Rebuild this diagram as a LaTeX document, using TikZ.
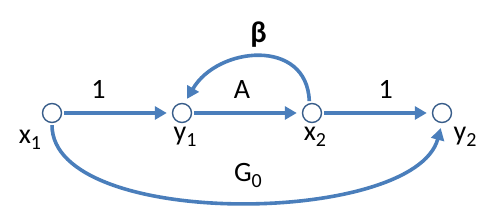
\documentclass[tikz,border=0pt]{standalone}
\usepackage{fontspec}
\setmainfont{Carlito}
\usetikzlibrary{arrows.meta,positioning}
\definecolor{flowblue}{HTML}{4A7EBB}
\definecolor{nodeblue}{HTML}{385D8A}
\tikzset{
    sfgnode/.style={circle, draw=nodeblue, line width=0.7pt, fill=white,
        minimum size=9.5pt, inner sep=0pt},
    sfglabel/.style={font=\fontsize{14}{16}\selectfont, inner sep=1pt},
    sfgarrow/.style={-{Triangle[length=6pt,width=6.5pt]}, draw=flowblue,
        line width=1.8pt, shorten >=2.5pt, shorten <=1pt}
}
\newcommand{\lowidx}[1]{\raisebox{-0.45ex}{\fontsize{10}{10}\selectfont #1}}

\begin{document}
\begin{tikzpicture}[x=0.5pt, y=0.5pt, node distance=65pt, on grid]
\useasboundingbox (0,0) rectangle (500,208);
\node[sfgnode] (x1) at (52,95) {};
\node[sfgnode, right=of x1] (y1) {};
\node[sfgnode, right=of y1] (x2) {};
\node[sfgnode, right=of x2] (y2) {};
% variable names
\node[sfglabel] (x1lab) at ([shift={(-11pt,-13.5pt)}]x1) {x\lowidx{1}};
\node[sfglabel] (y1lab) at ([shift={(1.5pt,-12pt)}]y1) {y\lowidx{1}};
\node[sfglabel] (x2lab) at ([shift={(1.5pt,-12pt)}]x2) {x\lowidx{2}};
\node[sfglabel] (y2lab) at ([shift={(11.5pt,-12pt)}]y2) {y\lowidx{2}};
% branches
\draw[sfgarrow] (x1) -- node[sfglabel, above=5.5pt, pos=0.33] {1} (y1);
\draw[sfgarrow] (y1) -- node[sfglabel, above=5.5pt, pos=0.455] {A} (x2);
\draw[sfgarrow] (x2) -- node[sfglabel, above=5.5pt, pos=0.58] {1} (y2);
\draw[sfgarrow] (x2.105) to[out=92, in=60, looseness=1.35]
    node[sfglabel, above=3pt, font=\fontsize{15}{17}\selectfont\bfseries] {β} (y1.75);
\draw[sfgarrow] (x1.south) to[out=-90, in=-105, looseness=0.7]
    node[sfglabel, above=5pt, pos=0.52] {G\lowidx{0}} (y2.south);
\end{tikzpicture}
\end{document}
